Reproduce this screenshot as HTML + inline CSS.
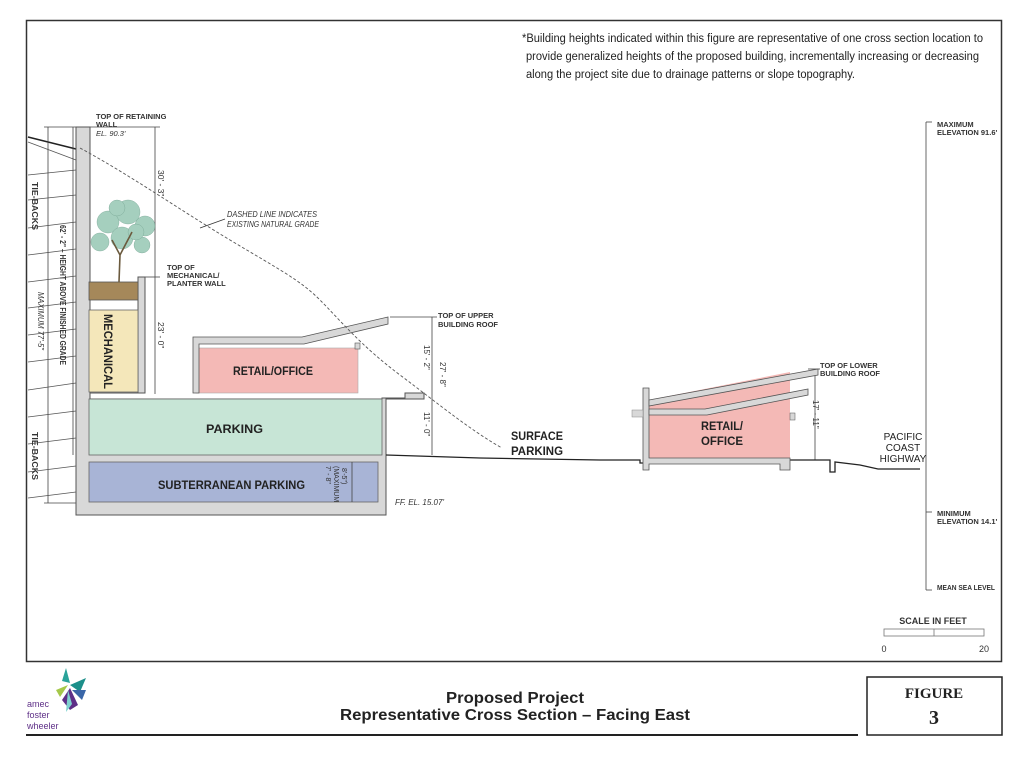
<!DOCTYPE html>
<html><head><meta charset="utf-8"><style>
html,body{margin:0;padding:0;background:#fff}
svg{display:block}
svg text{font-family:"Liberation Sans",Arial,sans-serif}
svg text.serif{font-family:"Liberation Serif","Times New Roman",serif}
</style></head><body>
<svg width="1024" height="783" viewBox="0 0 1024 783" xmlns="http://www.w3.org/2000/svg">
<rect x="0" y="0" width="1024" height="783" fill="#fff"/>
<rect x="26.5" y="20.5" width="975" height="641" fill="none" stroke="#333" stroke-width="1.5"/>
<g font-size="11.5" fill="#222">
<text x="522" y="42" textLength="461" lengthAdjust="spacingAndGlyphs">*Building heights indicated within this figure are representative of one cross section location to</text>
<text x="526" y="60" textLength="453" lengthAdjust="spacingAndGlyphs">provide generalized heights of the proposed building, incrementally increasing or decreasing</text>
<text x="526" y="78" textLength="329" lengthAdjust="spacingAndGlyphs">along the project site due to drainage patterns or slope topography.</text>
</g>
<g stroke="#555" stroke-width="0.8">
<line x1="28" y1="142" x2="76" y2="160"/>
<line x1="28" y1="175" x2="76" y2="170"/>
<line x1="28" y1="200" x2="76" y2="195"/>
<line x1="28" y1="228" x2="76" y2="222"/>
<line x1="28" y1="255" x2="76" y2="249"/>
<line x1="28" y1="282" x2="76" y2="276"/>
<line x1="28" y1="308" x2="76" y2="302"/>
<line x1="28" y1="335" x2="76" y2="329"/>
<line x1="28" y1="362" x2="76" y2="356"/>
<line x1="28" y1="390" x2="76" y2="383"/>
<line x1="28" y1="417" x2="76" y2="411"/>
<line x1="28" y1="444" x2="76" y2="438"/>
<line x1="28" y1="472" x2="76" y2="466"/>
<line x1="28" y1="498" x2="76" y2="492"/>
</g>
<polyline points="28,137 80,150" fill="none" stroke="#222" stroke-width="1.5"/>
<g stroke="#444" stroke-width="0.8" fill="none">
<line x1="48" y1="127" x2="48" y2="503"/>
<line x1="73" y1="127" x2="73" y2="455"/>
<line x1="44" y1="127" x2="76" y2="127"/>
<line x1="44" y1="503" x2="76" y2="503"/>
<line x1="155" y1="127" x2="155" y2="394"/>
<line x1="90" y1="127" x2="160" y2="127"/>
<line x1="145" y1="277" x2="160" y2="277"/>
</g>
<g font-size="8.5" fill="#333" font-weight="bold">
<text transform="translate(32,182) rotate(90)" textLength="48" lengthAdjust="spacingAndGlyphs">TIE-BACKS</text>
<text transform="translate(32,432) rotate(90)" textLength="48" lengthAdjust="spacingAndGlyphs">TIE-BACKS</text>
<text transform="translate(38,292) rotate(90)" font-weight="normal" font-style="italic" textLength="58" lengthAdjust="spacingAndGlyphs">MAXIMUM 77'-5"</text>
<text transform="translate(60,225) rotate(90)" textLength="140" lengthAdjust="spacingAndGlyphs">62' - 2" – HEIGHT ABOVE FINISHED GRADE</text>
<text transform="translate(158,170) rotate(90)" font-weight="normal">30' - 3"</text>
<text transform="translate(158,322) rotate(90)" font-weight="normal">23' - 0"</text>
</g>
<path d="M76,127 L90,127 L90,393 L145,393 L145,277 L138,277 L138,393 L90,393 L90,399 L382,399 L382,398 L405,398 L405,393 L424,393 L424,399 L386,399 L386,515 L76,515 Z" fill="#d8d8d8" stroke="#555" stroke-width="1"/>
<rect x="89" y="399" width="293" height="56" fill="#c7e5d6" stroke="#666" stroke-width="0.8"/>
<rect x="89" y="462" width="289" height="40" fill="#a8b4d6" stroke="#666" stroke-width="0.8"/>
<rect x="89" y="310" width="49" height="82" fill="#f4e7ba" stroke="#666" stroke-width="0.8"/>
<rect x="89" y="282" width="49" height="18" fill="#a5885a" stroke="#555" stroke-width="0.8"/>
<g fill="#9ccab8" stroke="#6a9c88" stroke-width="0.4" opacity="0.9">
<circle cx="108" cy="222" r="11"/><circle cx="128" cy="212" r="12"/><circle cx="145" cy="226" r="10"/>
<circle cx="100" cy="242" r="9"/><circle cx="122" cy="238" r="11"/><circle cx="142" cy="245" r="8"/>
<circle cx="117" cy="208" r="8"/><circle cx="136" cy="232" r="8"/>
</g>
<path d="M119,282 L120,255 L112,240 M120,255 L132,232" stroke="#6b5a3e" stroke-width="1.6" fill="none"/>
<text transform="translate(104,314) rotate(90)" font-size="12" font-weight="bold" fill="#222" textLength="75" lengthAdjust="spacingAndGlyphs">MECHANICAL</text>
<text x="206" y="433" font-size="12" font-weight="bold" fill="#222" textLength="57" lengthAdjust="spacingAndGlyphs">PARKING</text>
<text x="158" y="489" font-size="12" font-weight="bold" fill="#222" textLength="147" lengthAdjust="spacingAndGlyphs">SUBTERRANEAN PARKING</text>
<text transform="translate(326,466) rotate(90)" font-size="7" fill="#333">7' - 8"</text>
<text transform="translate(334,466) rotate(90)" font-size="7" fill="#333">(MAXIMUM</text>
<text transform="translate(342,468) rotate(90)" font-size="7" fill="#333">8'-5")</text>
<line x1="352" y1="462" x2="352" y2="502" stroke="#444" stroke-width="0.8"/>
<text x="395" y="505" font-size="8" font-style="italic" fill="#333">FF. EL. 15.07'</text>
<rect x="196" y="348" width="162" height="45" fill="#f4b9b6" stroke="#aaa" stroke-width="0.6"/>
<path d="M193,337 L302,337 L388,317 L388,324 L304,344 L199,344 L199,393 L193,393 Z" fill="#d8d8d8" stroke="#555" stroke-width="0.8"/>
<rect x="355" y="343" width="5" height="6" fill="#d8d8d8" stroke="#555" stroke-width="0.6"/>
<text x="233" y="375" font-size="12" font-weight="bold" fill="#222" textLength="80" lengthAdjust="spacingAndGlyphs">RETAIL/OFFICE</text>
<path d="M80,148 C130,175 180,210 230,240 C280,270 300,280 320,300 C340,320 360,345 400,375 C440,405 470,430 502,448" fill="none" stroke="#555" stroke-width="0.9" stroke-dasharray="3,2"/>
<line x1="200" y1="228" x2="225" y2="219" stroke="#333" stroke-width="0.8"/>
<text x="227" y="217" font-size="8" font-style="italic" fill="#333" textLength="90" lengthAdjust="spacingAndGlyphs">DASHED LINE INDICATES</text>
<text x="227" y="227" font-size="8" font-style="italic" fill="#333" textLength="92" lengthAdjust="spacingAndGlyphs">EXISTING NATURAL GRADE</text>
<g font-size="7.5" font-weight="bold" fill="#333">
<text x="96" y="119">TOP OF RETAINING</text><text x="96" y="127">WALL</text>
<text x="96" y="136" font-weight="normal" font-style="italic">EL. 90.3'</text>
<text x="167" y="270">TOP OF</text><text x="167" y="278">MECHANICAL/</text><text x="167" y="286">PLANTER WALL</text>
<text x="438" y="318">TOP OF UPPER</text><text x="438" y="327">BUILDING ROOF</text>
<text x="820" y="368">TOP OF LOWER</text><text x="820" y="376">BUILDING ROOF</text>
<text x="937" y="127">MAXIMUM</text><text x="937" y="135">ELEVATION 91.6'</text>
<text x="937" y="516">MINIMUM</text><text x="937" y="524">ELEVATION 14.1'</text>
<text x="937" y="590" textLength="58" lengthAdjust="spacingAndGlyphs">MEAN SEA LEVEL</text>
</g>
<g stroke="#444" stroke-width="0.8">
<line x1="432" y1="317" x2="432" y2="455"/>
<line x1="390" y1="317" x2="437" y2="317"/>
<line x1="815" y1="369" x2="815" y2="460"/>
<line x1="808" y1="369" x2="820" y2="369"/>
<line x1="926" y1="122" x2="926" y2="590"/>
<line x1="926" y1="122" x2="932" y2="122"/>
<line x1="926" y1="512" x2="932" y2="512"/>
<line x1="926" y1="590" x2="932" y2="590"/>
</g>
<g font-size="8" fill="#333">
<text transform="translate(424,345) rotate(90)">15' - 2"</text>
<text transform="translate(440,362) rotate(90)">27' - 8"</text>
<text transform="translate(424,412) rotate(90)">11' - 0"</text>
<text transform="translate(813,400) rotate(90)">17' - 11"</text>
</g>
<polyline points="386,455 480,458 600,460 640,460 640,463 649,463" fill="none" stroke="#222" stroke-width="1.3"/>
<polyline points="790,460 830,460 830,472 835,472 835,462 860,465 878,469 920,469" fill="none" stroke="#222" stroke-width="1.3"/>
<text x="511" y="440" font-size="12" font-weight="bold" fill="#222" textLength="52" lengthAdjust="spacingAndGlyphs">SURFACE</text>
<text x="511" y="455" font-size="12" font-weight="bold" fill="#222" textLength="52" lengthAdjust="spacingAndGlyphs">PARKING</text>
<text x="903" y="440" font-size="10" fill="#222" text-anchor="middle">PACIFIC</text>
<text x="903" y="451" font-size="10" fill="#222" text-anchor="middle">COAST</text>
<text x="903" y="462" font-size="10" fill="#222" text-anchor="middle">HIGHWAY</text>
<path d="M649,400 L790,372 L790,458 L649,458 Z" fill="#f4b9b6"/>
<path d="M643,388 L649,388 L649,458 L790,458 L790,470 L780,470 L780,464 L649,464 L649,470 L643,470 Z" fill="#d8d8d8" stroke="#555" stroke-width="0.8"/>
<path d="M649,400 L818,369 L818,375 L649,406 Z" fill="#d8d8d8" stroke="#555" stroke-width="0.8"/>
<path d="M649,409 L705,409 L808,389 L808,395 L707,415 L649,415 Z" fill="#d8d8d8" stroke="#555" stroke-width="0.8"/>
<rect x="632" y="410" width="11" height="7" fill="#d8d8d8" stroke="#888" stroke-width="0.5"/>
<rect x="790" y="413" width="5" height="7" fill="#d8d8d8" stroke="#555" stroke-width="0.5"/>
<text x="701" y="430" font-size="12" font-weight="bold" fill="#222" textLength="42" lengthAdjust="spacingAndGlyphs">RETAIL/</text>
<text x="701" y="445" font-size="12" font-weight="bold" fill="#222" textLength="42" lengthAdjust="spacingAndGlyphs">OFFICE</text>
<text x="933" y="624" font-size="9" font-weight="bold" fill="#333" text-anchor="middle">SCALE IN FEET</text>
<rect x="884" y="629" width="100" height="7" fill="#fff" stroke="#777" stroke-width="0.8"/>
<line x1="934" y1="629" x2="934" y2="636" stroke="#777" stroke-width="0.8"/>
<text x="884" y="652" font-size="9" fill="#333" text-anchor="middle">0</text>
<text x="984" y="652" font-size="9" fill="#333" text-anchor="middle">20</text>
<g>
<polygon points="62,681 66,668 70,683" fill="#2aa39a"/>
<polygon points="56,690 68,685 60,697" fill="#a5c84a"/>
<polygon points="70,685 86,678 80,692" fill="#1c8f8a"/>
<polygon points="62,700 70,688 78,705 70,710" fill="#5e2f87"/>
<polygon points="72,690 86,690 82,700" fill="#3a66a8"/>
<polygon points="68,690 72,704 66,712" fill="#7fd2d0"/>
<text x="27" y="707" font-size="9" fill="#5e2f87">amec</text>
<text x="27" y="718" font-size="9" fill="#5e2f87">foster</text>
<text x="27" y="729" font-size="9" fill="#5e2f87">wheeler</text>
</g>
<text x="446" y="703" font-size="16" font-weight="bold" fill="#222" textLength="138" lengthAdjust="spacingAndGlyphs">Proposed Project</text>
<text x="340" y="720" font-size="16" font-weight="bold" fill="#222" textLength="350" lengthAdjust="spacingAndGlyphs">Representative Cross Section – Facing East</text>
<line x1="26" y1="735" x2="858" y2="735" stroke="#222" stroke-width="2"/>
<rect x="867" y="677" width="135" height="58" fill="#fff" stroke="#222" stroke-width="1.5"/>
<text class="serif" x="934" y="698" font-size="15" font-weight="bold" fill="#222" text-anchor="middle">FIGURE</text>
<text class="serif" x="934" y="724" font-size="20" font-weight="bold" fill="#222" text-anchor="middle">3</text>
</svg>
</body></html>
